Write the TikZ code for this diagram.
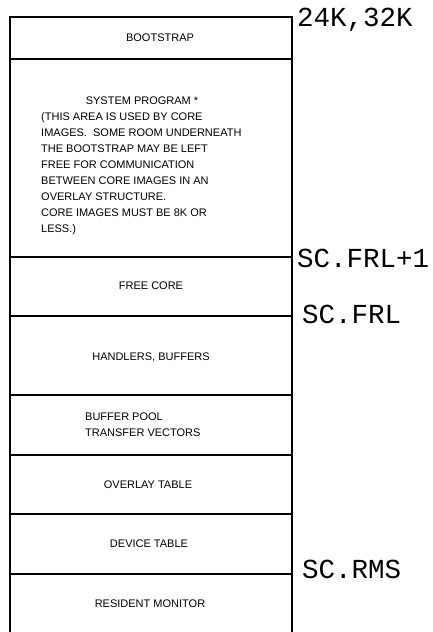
\documentclass[tikz,border=0pt]{standalone}
\usepackage{fontspec}
\setmainfont{Liberation Sans}
\setmonofont{Liberation Mono}
\usepackage{tikz}

\tikzset{
  region/.style={draw, line width=1.6pt, minimum width=282pt, inner sep=0pt, outer sep=0pt},
  txt/.style={font=\fontsize{11}{16}\selectfont, inner sep=0pt},
  addr/.style={font=\fontsize{27.5}{27.5}\selectfont\ttfamily, anchor=base west, inner sep=0pt},
}

\begin{document}
\begin{tikzpicture}[x=1pt, y=1pt]
 \useasboundingbox (0,0) rectangle (432,-632);
 % memory regions, top to bottom
 \node[region, minimum height=42pt] (boot) at (151,-38) {};
 \node[region, minimum height=198pt] (sys) at (151,-158) {};
 \node[region, minimum height=59pt] (free) at (151,-286.5) {};
 \node[region, minimum height=79pt] (hand) at (151,-355.5) {};
 \node[region, minimum height=60pt] (pool) at (151,-425) {};
 \node[region, minimum height=59pt] (ovl) at (151,-484.5) {};
 \node[region, minimum height=60pt] (dev) at (151,-544) {};
 % bottom edge runs off the page
 \node[region, minimum height=80pt] (res) at (151,-614) {};

 % region texts
 \node[txt] (bootT) at ([xshift=9pt]boot.center) {BOOTSTRAP};
 \node[txt] (sysT) at (142,-101) {SYSTEM PROGRAM *};
 \node[txt, anchor=north west, align=left] (sysN) at (41,-112) {(THIS AREA IS USED BY CORE\\
   IMAGES.\ \ SOME ROOM UNDERNEATH\\
   THE BOOTSTRAP MAY BE LEFT\\
   FREE FOR COMMUNICATION\\
   BETWEEN CORE IMAGES IN AN\\
   OVERLAY STRUCTURE.\\
   CORE IMAGES MUST BE 8K OR\\
   LESS.)};
 \node[txt] (freeT) at ([yshift=1pt]free.center) {FREE CORE};
 \node[txt] (handT) at ([yshift=-1.5pt]hand.center) {HANDLERS, BUFFERS};
 \node[txt, anchor=west, align=left] (poolT) at (85,-425) {BUFFER POOL\\TRANSFER VECTORS};
 \node[txt] (ovlT) at ([xshift=-3pt]ovl.center) {OVERLAY TABLE};
 \node[txt] (devT) at ([xshift=-2pt]dev.center) {DEVICE TABLE};
 \node[txt] (resT) at (150,-604) {RESIDENT MONITOR};

 % addresses
 \node[addr] (top) at (297,-26) {24K,32K};
 \node[addr] (frl1) at (297,-267) {SC.FRL+1};
 \node[addr] (frl) at (302,-323) {SC.FRL};
 \node[addr] (rms) at (302,-578) {SC.RMS};
\end{tikzpicture}
\end{document}
